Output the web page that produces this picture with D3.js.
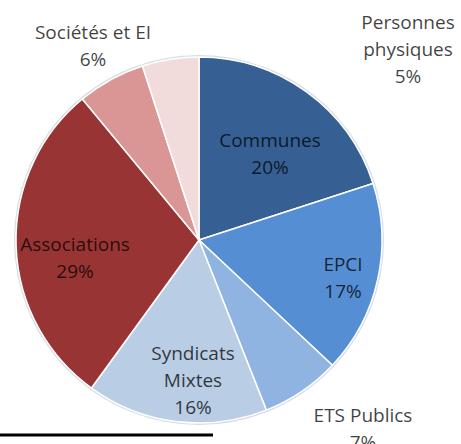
<!DOCTYPE html>
<html>
<head>
<meta charset="utf-8">
<script src="https://cdn.jsdelivr.net/npm/d3@7"></script>
<style>
  html, body { margin: 0; padding: 0; background: #fff; }
  svg { display: block; }
  .lbl { font-family: "Open Sans", sans-serif; font-size: 19px; fill: #000; fill-opacity: 0.75; }
</style>
</head>
<body>
<svg id="chart" width="461" height="444"></svg>
<script>
// categories, clockwise from 12 o'clock
const categories = ["Communes", "EPCI", "ETS Publics", "Syndicats Mixtes", "Associations", "Sociétés et EI", "Personnes physiques"];
const values = [20, 17, 7, 16, 29, 6, 5];
const colors = ["#365f93", "#568ed4", "#8fb4e2", "#b9cde5", "#983534", "#d99694", "#f2dcdb"];
// how each label is broken into lines
const labelLines = [["Communes"], ["EPCI"], ["ETS Publics"], ["Syndicats", "Mixtes"], ["Associations"], ["Sociétés et EI"], ["Personnes", "physiques"]];

const svg = d3.select("#chart");
const cx = 199, cy = 240, radius = 183;
const lineH = 27;

// where excel put each label block (offset of block centre from pie centre)
const labelOffset = {
    "Communes": [71, -86],
    "EPCI": [144, 38],
    "ETS Publics": [164, 189],
    "Syndicats Mixtes": [-6, 140],
    "Associations": [-124, 18],
    "Sociétés et EI": [-106, -194],
    "Personnes physiques": [209, -191]
};

const data = categories.map(function (c, i) {
    return { name: c, value: values[i], color: colors[i], lines: labelLines[i] };
});

const pie = d3.pie().sort(null).value(function (d) { return d.value; });
const arc = d3.arc().innerRadius(0).outerRadius(radius);

const g = svg.append("g").attr("transform", `translate(${cx},${cy})`);

// faint edge shadow
g.append("circle")
    .attr("r", radius + 1)
    .attr("fill", "none")
    .attr("stroke", "#d8dde4")
    .attr("stroke-width", 2);

g.selectAll("path.slice")
    .data(pie(data))
    .join("path")
    .attr("class", "slice")
    .attr("d", arc)
    .attr("fill", function (d) { return d.data.color; })
    .attr("stroke", "#fff")
    .attr("stroke-width", 1.5)
    .attr("stroke-linejoin", "round");

const labels = g.selectAll("text.lbl")
    .data(pie(data))
    .join("text")
    .attr("class", "lbl")
    .attr("text-anchor", "middle")
    .attr("transform", function (d) {
        const o = labelOffset[d.data.name];
        return `translate(${o[0]},${o[1]})`;
    });

labels.each(function (d) {
    const lines = d.data.lines.concat([d3.format(".0%")(d.data.value / 100)]);
    const top = -(lines.length - 1) * lineH / 2;
    d3.select(this).selectAll("tspan")
        .data(lines)
        .join("tspan")
        .attr("x", 0)
        .attr("y", function (t, i) { return top + i * lineH; })
        .attr("dy", "0.35em")
        .text(function (t) { return t; });
});

// black rule at bottom left
svg.append("line")
    .attr("x1", 0).attr("x2", 213)
    .attr("y1", 435).attr("y2", 435)
    .attr("stroke", "#000")
    .attr("stroke-width", 3);
</script>
</body>
</html>
